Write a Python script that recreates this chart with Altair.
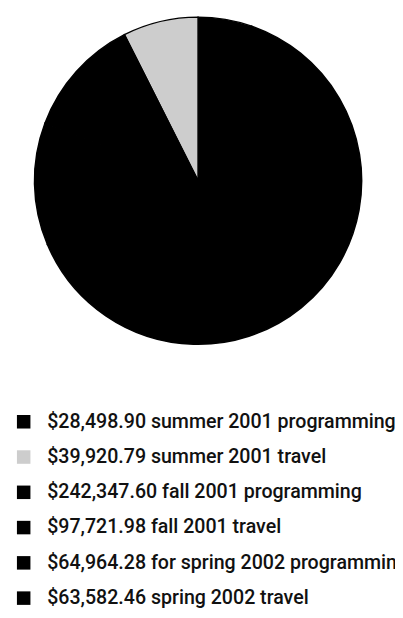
import altair as alt
import pandas as pd

labels = [
    "$28,498.90 summer 2001 programming",
    "$39,920.79 summer 2001 travel",
    "$242,347.60 fall 2001 programming",
    "$97,721.98 fall 2001 travel",
    "$64,964.28 for spring 2002 programming",
    "$63,582.46 spring 2002 travel",
]
values = [28498.90, 39920.79, 242347.60, 97721.98, 64964.28, 63582.46]
slice_order = [0, 5, 1, 2, 3, 4]
colors = ["#000000", "#cdcdcd", "#000000", "#000000", "#000000", "#000000"]

df = pd.DataFrame({"label": labels, "value": values, "ord": slice_order})

color = alt.Color("label:N", scale=alt.Scale(domain=labels, range=colors), legend=None)

pie = alt.Chart(df).mark_arc(radius=167, stroke="#000000", strokeWidth=1.5).encode(
    theta=alt.Theta("value:Q", stack=True),
    order=alt.Order("ord:Q"),
    color=color,
    x=alt.value(194),
    y=alt.value(166),
)

yleg = alt.Y(
    "label:N",
    sort=labels,
    scale=alt.Scale(type="point", domain=labels, range=[412, 592], padding=0),
    axis=None,
)

squares = alt.Chart(df).mark_square(size=190, opacity=1, filled=True).encode(
    x=alt.value(16),
    y=yleg,
    color=color,
)

texts = alt.Chart(df).mark_text(
    align="left",
    baseline="middle",
    font="Liberation Sans Narrow, Roboto",
    fontSize=20,
    fontWeight=500,
    color="#111111",
    clip=True,
).encode(
    x=alt.value(40),
    y=yleg,
    text="label:N",
)

chart = alt.layer(pie, squares, texts).properties(
    width=395, height=608, padding=0
).configure_view(stroke=None)

chart.save("out.html", embed_options={"renderer": "svg", "actions": False})
